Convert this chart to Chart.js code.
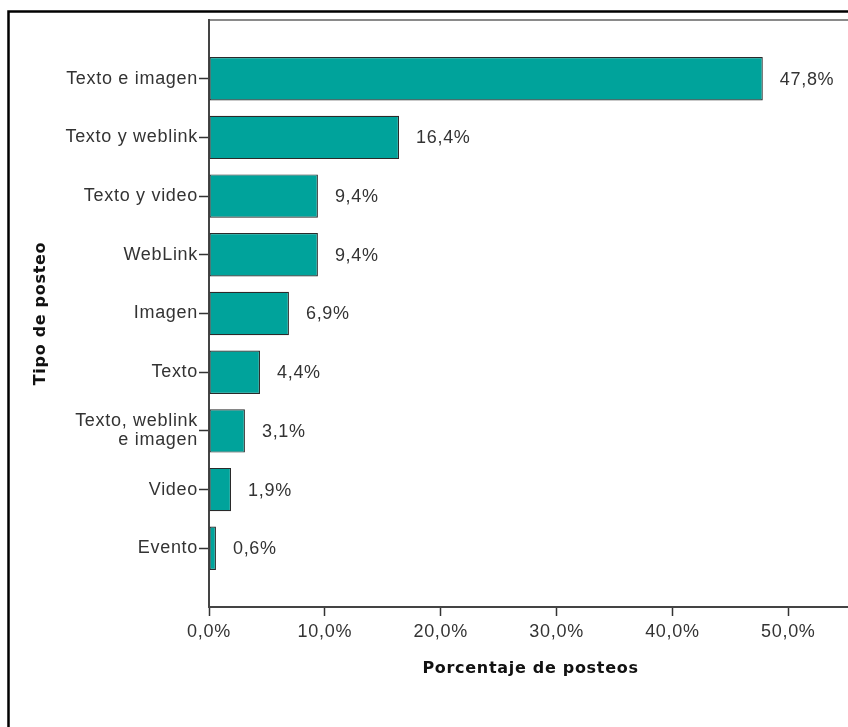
<!DOCTYPE html>
<html>
<head>
<meta charset="utf-8">
<script src="https://cdn.jsdelivr.net/npm/chart.js@4/dist/chart.umd.min.js"></script>
<style>
  html, body { margin: 0; padding: 0; background: #fff; overflow: hidden; }
  #wrap { position: relative; width: 852px; height: 727px; }
</style>
</head>
<body>
<div id="wrap"><canvas id="c"></canvas></div>
<script>
const categories = ['Texto e imagen', 'Texto y weblink', 'Texto y video', 'WebLink', 'Imagen', 'Texto', ['Texto, weblink', 'e imagen'], 'Video', 'Evento'];
const percentages = [47.8, 16.4, 9.4, 9.4, 6.9, 4.4, 3.1, 1.9, 0.6];
const valueLabels = ['47,8%', '16,4%', '9,4%', '9,4%', '6,9%', '4,4%', '3,1%', '1,9%', '0,6%'];
const xTickValues = [0, 10, 20, 30, 40, 50];
const xTickLabels = ['0,0%', '10,0%', '20,0%', '30,0%', '40,0%', '50,0%'];

const labels = [''].concat(categories, ['']);
const data = [null].concat(percentages, [null]);
const lastIdx = labels.length - 1;

const framePlugin = {
  id: 'frame',
  beforeDraw(chart) {
    const ctx = chart.ctx;
    ctx.save();
    ctx.fillStyle = '#fff';
    ctx.fillRect(0, 0, chart.width, chart.height);
    ctx.strokeStyle = '#000';
    ctx.lineWidth = 2.5;
    ctx.strokeRect(8.5, 11.5, chart.width + 50, chart.height + 50);
    const a = chart.chartArea;
    ctx.strokeStyle = '#8a8a8a';
    ctx.lineWidth = 2;
    ctx.beginPath();
    ctx.moveTo(a.left, a.top);
    ctx.lineTo(a.right + 10, a.top);
    ctx.stroke();
    ctx.restore();
    try { ctx.letterSpacing = '0.7px'; } catch (e) {}
  },
  afterDatasetsDraw(chart) {
    const ctx = chart.ctx;
    const meta = chart.getDatasetMeta(0);
    ctx.save();
    ctx.font = '18px "Liberation Sans", Arial, sans-serif';
    ctx.fillStyle = '#333';
    ctx.textAlign = 'left';
    ctx.textBaseline = 'middle';
    meta.data.forEach((bar, i) => {
      const v = data[i];
      if (v === null || v === undefined) return;
      ctx.fillText(valueLabels[i - 1], bar.x + 17, bar.y + 1);
    });
    ctx.restore();
  }
};

new Chart(document.getElementById('c'), {
  type: 'bar',
  data: {
    labels: labels,
    datasets: [{
      data: data,
      backgroundColor: '#00A39B',
      borderColor: '#2a2a2a',
      borderWidth: 1.2,
      borderSkipped: false,
      barPercentage: 0.74,
      categoryPercentage: 1.0
    }]
  },
  options: {
    indexAxis: 'y',
    responsive: true,
    maintainAspectRatio: false,
    animation: false,
    layout: { padding: { left: 0, top: 20, right: 0, bottom: 0 } },
    plugins: { legend: { display: false }, tooltip: { enabled: false } },
    scales: {
      y: {
        type: 'category',
        offset: false,
        grid: {
          display: true,
          offset: false,
          drawOnChartArea: false,
          drawTicks: true,
          tickLength: 10,
          tickWidth: 1.5,
          tickColor: (c) => (c.index === 0 || c.index === lastIdx) ? 'rgba(0,0,0,0)' : '#333'
        },
        border: { display: true, color: '#444', width: 2 },
        ticks: {
          autoSkip: false,
          padding: 1,
          color: '#333',
          font: { family: '"Liberation Sans", Arial, sans-serif', size: 18, lineHeight: 1.05 }
        },
        title: {
          display: true,
          text: 'Tipo de posteo',
          color: '#111',
          font: { family: '"DejaVu Sans", sans-serif', size: 16, weight: 'bold' },
          padding: { top: 31, bottom: 0 }
        },
        afterFit(scale) { scale.width = 209; }
      },
      x: {
        type: 'linear',
        min: 0,
        max: 55.5,
        afterBuildTicks(scale) { scale.ticks = xTickValues.map(v => ({ value: v })); },
        grid: {
          display: true,
          drawOnChartArea: false,
          drawTicks: true,
          tickLength: 9,
          tickWidth: 1.5,
          tickColor: '#333'
        },
        border: { display: true, color: '#444', width: 2 },
        ticks: {
          padding: 5,
          color: '#333',
          font: { family: '"Liberation Sans", Arial, sans-serif', size: 18 },
          callback: (v) => { const i = xTickValues.indexOf(v); return i >= 0 ? xTickLabels[i] : ''; }
        },
        title: {
          display: true,
          text: 'Porcentaje de posteos',
          color: '#111',
          font: { family: '"DejaVu Sans", sans-serif', size: 16, weight: 'bold' },
          padding: { top: 0, bottom: 49 }
        },
        afterFit(scale) { scale.height = 120; }
      }
    }
  },
  plugins: [framePlugin]
});
</script>
</body>
</html>
